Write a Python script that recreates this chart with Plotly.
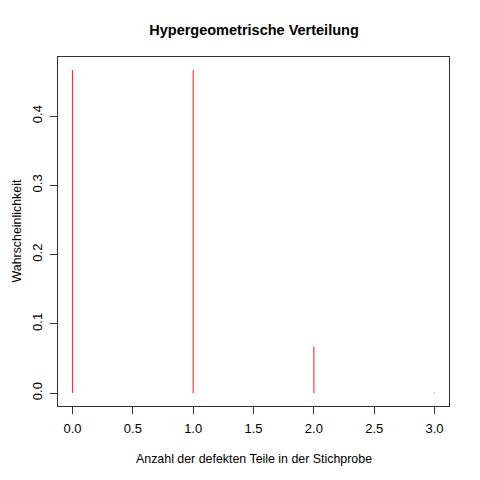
import plotly.graph_objects as go

# Hypergeometrische Verteilung: Anzahl defekter Teile in der Stichprobe
x_werte = [0, 1, 2, 3]
wahrscheinlichkeit = [0.4667, 0.4667, 0.0667, 0.0008]

fig = go.Figure()
for xv, p in zip(x_werte, wahrscheinlichkeit):
    fig.add_trace(go.Scatter(x=[xv, xv], y=[0, p], mode="lines",
                             line=dict(color="#ff2a2a", width=1.1), showlegend=False))

# page has an 8px body margin, so margins are shifted to compensate
fig.update_layout(
    width=480, height=480,
    margin=dict(l=50, r=39, t=49, b=82),
    paper_bgcolor="white", plot_bgcolor="white",
    font=dict(family="Liberation Sans, Arial", size=12, color="black"),
    title=dict(text="<b>Hypergeometrische Verteilung</b>", x=0.5125, xanchor="center",
               y=0.954, yanchor="middle", font=dict(size=14.5)),
)
fig.update_xaxes(range=[-0.12, 3.12], tickvals=[0, 0.5, 1, 1.5, 2, 2.5, 3],
                 ticktext=["0.0", "0.5", "1.0", "1.5", "2.0", "2.5", "3.0"],
                 ticks="outside", ticklen=7, tickcolor="#333", automargin=False,
                 tickfont=dict(size=13), ticklabelstandoff=3,
                 showgrid=False, zeroline=False, showline=True, linecolor="#333",
                 mirror=True)
fig.update_yaxes(range=[-0.0187, 0.4853], tickvals=[0, 0.1, 0.2, 0.3, 0.4],
                 ticktext=["0.0", "0.1", "0.2", "0.3", "0.4"], tickangle=-90,
                 ticks="outside", ticklen=7, tickcolor="#333", automargin=False,
                 tickfont=dict(size=13), ticklabelstandoff=3,
                 showgrid=False, zeroline=False, showline=True, linecolor="#333",
                 mirror=True)

# axis titles as annotations so they sit where R puts them
fig.add_annotation(text="Anzahl der defekten Teile in der Stichprobe", xref="paper", yref="paper",
                   x=0.5, y=0, yshift=-53, xanchor="center", yanchor="middle",
                   showarrow=False, font=dict(size=12.4))
fig.add_annotation(text="Wahrscheinlichkeit", xref="paper", yref="paper", textangle=-90,
                   x=0, y=0.5, xshift=-42, xanchor="center", yanchor="middle",
                   showarrow=False, font=dict(size=12.4))

fig.write_html("out.html")
